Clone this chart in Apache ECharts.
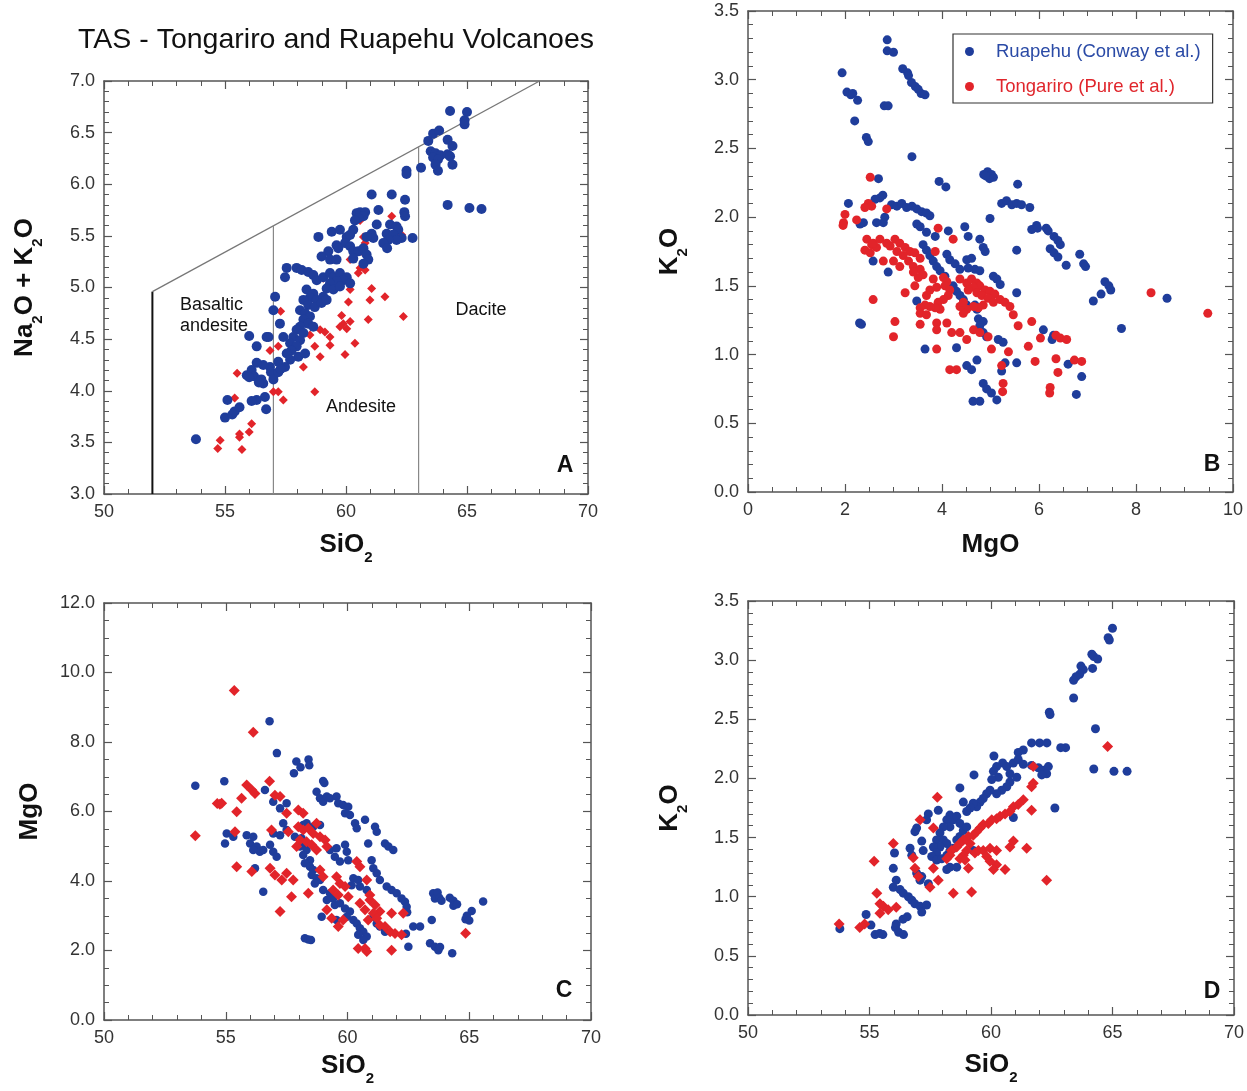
<!DOCTYPE html>
<html><head><meta charset="utf-8">
<script src="https://cdn.jsdelivr.net/npm/echarts@6/dist/echarts.min.js"></script>
<style>html,body{margin:0;padding:0;background:#fff}#c{width:1247px;height:1091px}</style>
</head><body><div id="c"></div>
<script>
// ---------------- DATA ----------------
const mainTitle = 'TAS - Tongariro and Ruapehu Volcanoes';
const nameRuapehu = 'Ruapehu (Conway et al.)';
const nameTongariro = 'Tongariro (Pure et al.)';
const panelLetters = ['A', 'B', 'C', 'D'];
const fieldLabels = ['Basaltic\nandesite', 'Andesite', 'Dacite'];

// TAS field boundaries (SiO2, Na2O+K2O)
const tasBasaltEdge = [[52, 3.0], [52, 4.96]];
const tasUpperEdge = [[52, 4.96], [68, 7.0]];
const tasEdge57 = [[57, 3.0], [57, 5.60]];
const tasEdge63 = [[63, 3.0], [63, 6.37]];

// Panel A: SiO2 vs Na2O+K2O
const aBlue = [
 [64.3,6.71],[65.0,6.70],[64.9,6.62],[64.9,6.58],[63.4,6.42],[63.6,6.49],[63.85,6.52],[64.2,6.43],[64.4,6.37],[63.5,6.32],
 [63.7,6.30],[63.9,6.28],[64.2,6.29],[63.6,6.26],[63.8,6.24],[63.7,6.19],[63.8,6.13],[64.4,6.19],[64.3,6.27],[63.1,6.16],
 [62.5,6.13],[62.5,6.10],[64.2,5.80],[65.1,5.77],[65.6,5.76],
 [61.06,5.90],[61.89,5.90],[62.44,5.85],[61.34,5.75],[62.41,5.73],[62.44,5.69],[60.44,5.72],[60.58,5.73],[60.79,5.73],[60.72,5.69],
 [60.51,5.67],[60.37,5.65],[61.82,5.61],[62.09,5.59],[62.16,5.56],[61.68,5.52],[61.95,5.51],[62.30,5.48],[62.09,5.46],[61.75,5.46],
 [61.54,5.43],[61.70,5.38],[62.75,5.48],[61.27,5.61],[61.06,5.52],[61.13,5.48],[60.85,5.49],
 [60.30,5.56],[60.03,5.49],[60.17,5.51],[59.96,5.43],[60.17,5.40],[60.30,5.35],[60.51,5.35],[60.72,5.38],[60.85,5.32],[60.92,5.27],
 [60.72,5.23],[60.30,5.28],
 [59.41,5.54],[59.75,5.56],[58.86,5.49],[59.61,5.41],[59.68,5.38],[59.27,5.35],[58.99,5.30],[59.34,5.27],[59.61,5.27],
 [57.55,5.19],[57.96,5.19],[58.17,5.17],[58.44,5.15],[58.65,5.12],[57.48,5.10],[58.79,5.07],[59.06,5.10],[59.34,5.14],[59.48,5.10],
 [59.75,5.14],[60.03,5.10],[59.89,5.07],[60.17,5.04],[59.61,5.06],[59.34,5.04],[59.20,4.99],[59.48,4.98],[59.75,5.01],
 [58.37,4.98],[58.65,4.94],[58.51,4.90],[58.79,4.88],[59.06,4.91],[58.24,4.88],[58.44,4.83],[58.71,4.81],[58.99,4.85],[59.20,4.88],
 [58.10,4.78],[58.31,4.75],[58.51,4.72],[58.24,4.69],[58.44,4.65],[58.65,4.62],[58.10,4.62],[57.96,4.59],[58.24,4.56],[57.82,4.52],
 [58.10,4.49],[57.69,4.46],[57.96,4.43],[57.75,4.39],[57.55,4.36],[57.41,4.52],[57.27,4.65],
 [58.03,4.33],[58.31,4.36],[57.69,4.30],[57.48,4.23],[57.20,4.28],[57.07,4.91],[57.0,4.78],
 [56.58,4.07],[56.65,3.94],[56.31,3.91],[56.86,4.23],[56.58,4.25],[56.31,4.27],[56.72,4.52],[56.31,4.43],[56.0,4.53],[56.8,4.52],
 [56.1,4.20],[55.9,4.15],[56.2,4.14],[56.5,4.11],[56.0,4.13],[56.1,3.90],[56.7,3.82],[56.4,4.08],[56.9,4.18],[57.0,4.11],
 [57.2,4.18],[57.3,4.21],
 [53.8,3.53],[55.0,3.74],[55.3,3.77],[55.4,3.80],[55.6,3.84],[55.1,3.91]
];
const aRed = [
 [54.7,3.44],[54.8,3.52],[55.7,3.43],[55.6,3.55],[55.6,3.58],[56.0,3.60],[56.1,3.68],[55.4,3.93],[55.5,4.17],
 [61.89,5.69],[62.30,5.51],[60.58,5.65],[60.72,5.49],[60.79,5.43],[60.65,5.35],[60.17,5.27],[60.58,5.19],[60.51,5.14],[60.79,5.17],
 [59.06,5.09],[61.06,4.99],[61.61,4.91],[60.99,4.88],[60.17,4.98],[60.10,4.86],[62.37,4.72],[60.92,4.69],[59.82,4.73],[59.89,4.65],
 [60.17,4.67],[60.03,4.60],[59.75,4.62],[58.93,4.59],[59.13,4.57],[59.34,4.52],[60.37,4.46],[59.34,4.44],[58.71,4.43],[58.93,4.33],
 [59.96,4.35],[58.24,4.23],[57.20,4.43],[56.86,4.39],[57.0,3.99],[57.2,3.99],[57.41,3.91],[58.71,3.99],[58.51,4.54],[57.3,4.77]
];

// Panel B: MgO vs K2O
const bBlue = [
 [1.94,3.05],[2.04,2.91],[2.12,2.89],[2.16,2.90],[2.26,2.85],[2.20,2.70],[2.44,2.58],[2.48,2.55],[2.87,3.29],[2.87,3.21],
 [3.00,3.20],[2.81,2.81],[2.89,2.81],[3.19,3.08],[3.29,3.05],[3.31,3.03],[3.37,2.98],[3.45,2.95],[3.51,2.93],[3.57,2.90],
 [3.65,2.89],[3.38,2.44],[2.69,2.28],[2.78,2.16],[3.94,2.26],[4.08,2.22],
 [4.86,2.31],[4.94,2.33],[5.02,2.31],[5.06,2.29],[4.98,2.28],[4.90,2.30],[5.56,2.24],
 [2.07,2.10],[2.72,2.14],[2.62,2.13],[2.96,2.09],[3.07,2.08],[3.17,2.10],[3.27,2.07],[3.38,2.08],[3.48,2.06],[3.58,2.04],
 [3.68,2.03],[3.75,2.01],[2.82,2.00],[2.79,1.96],[2.65,1.96],[2.38,1.96],[2.31,1.95],
 [3.48,1.95],[3.55,1.93],[3.68,1.89],[3.86,1.86],[4.13,1.90],[4.47,1.93],[4.54,1.86],[4.78,1.84],[4.85,1.78],[4.89,1.75],
 [4.99,1.99],[5.23,2.10],[5.33,2.12],[5.44,2.09],[5.54,2.10],[5.64,2.09],[5.81,2.07],[5.54,1.76],[5.85,1.91],
 [3.61,1.80],[3.68,1.76],[3.75,1.72],[3.82,1.68],[3.89,1.64],[3.96,1.61],[4.06,1.57],
 [4.10,1.73],[4.16,1.69],[4.27,1.66],[4.37,1.62],[4.51,1.69],[4.61,1.70],[4.68,1.62],[4.78,1.61],[4.54,1.63],
 [5.06,1.57],[5.13,1.55],[5.20,1.51],
 [4.23,1.50],[4.30,1.46],[4.37,1.43],[4.44,1.40],[4.51,1.36],
 [4.68,1.36],[4.72,1.33],[4.75,1.26],[4.85,1.24],[4.78,1.21],[4.85,1.16],[4.92,1.13],[5.16,1.11],[5.26,1.09],
 [3.48,1.39],[2.30,1.23],[2.34,1.22],[2.89,1.60],[2.58,1.68],[3.65,1.04],[4.30,1.05],[5.54,1.45],[5.54,0.94],
 [4.51,0.92],[4.61,0.89],[4.72,0.96],[4.85,0.79],[4.92,0.75],[5.02,0.72],[5.13,0.67],[4.78,0.66],[4.64,0.66],[5.23,0.88],[5.30,0.94],
 [5.95,1.94],[5.97,1.92],[6.15,1.92],[6.19,1.90],[6.31,1.86],[6.39,1.83],[6.44,1.80],[6.23,1.77],[6.31,1.74],[6.39,1.71],
 [6.56,1.65],[6.84,1.73],[6.92,1.66],[6.96,1.64],[7.36,1.53],[7.44,1.50],[7.48,1.47],[7.28,1.44],[7.12,1.39],[8.64,1.41],[7.70,1.19],
 [6.09,1.18],[6.30,1.14],[6.27,1.11],[6.60,0.93],[6.88,0.84],[6.77,0.71]
];
const bRed = [
 [2.52,2.29],[2.48,2.10],[2.55,2.08],[2.41,2.07],[2.00,2.02],[1.97,1.96],[2.86,2.06],[2.24,1.98],[1.96,1.94],
 [2.45,1.84],[2.55,1.80],[2.65,1.78],[2.41,1.76],[2.52,1.74],[2.58,1.81],[2.72,1.84],[2.86,1.81],[2.93,1.79],[3.03,1.84],
 [3.13,1.81],[3.24,1.78],[3.34,1.75],[3.44,1.74],[3.55,1.70],[3.07,1.75],[3.20,1.72],[3.00,1.68],[3.13,1.64],[3.31,1.68],
 [3.41,1.64],[3.55,1.62],[3.61,1.58],[3.51,1.56],[3.41,1.60],[2.79,1.68],
 [2.58,1.40],[3.24,1.45],[3.44,1.50],[3.68,1.43],[3.75,1.47],[3.89,1.49],[3.82,1.55],[3.86,1.75],[3.92,1.92],[4.23,1.84],
 [4.03,1.56],[4.10,1.53],[4.06,1.50],[4.16,1.47],[4.13,1.43],[4.03,1.40],[3.92,1.38],[3.96,1.33],[3.86,1.34],[3.75,1.35],
 [3.65,1.36],[3.55,1.34],[3.55,1.30],[3.68,1.29],
 [4.37,1.55],[4.51,1.52],[4.61,1.55],[4.72,1.52],[4.78,1.50],[4.89,1.47],[4.99,1.46],[5.09,1.44],[5.20,1.40],[5.30,1.38],
 [5.40,1.35],[5.47,1.29],[4.65,1.49],[4.54,1.47],[4.72,1.45],[4.82,1.43],[4.95,1.41],[5.06,1.38],[4.85,1.36],[4.75,1.34],
 [4.65,1.35],[4.51,1.33],[4.44,1.30],[4.37,1.35],[4.44,1.38],
 [3.03,1.24],[3.00,1.13],[3.55,1.22],[3.89,1.23],[3.89,1.18],[4.10,1.23],[4.20,1.16],[4.37,1.16],[4.51,1.11],[4.65,1.18],
 [4.78,1.16],[4.95,1.13],[3.89,1.04],[4.16,0.89],[4.30,0.89],[5.02,1.04],[5.37,1.02],[5.23,0.92],[5.26,0.79],[5.25,0.73],
 [5.57,1.21],[5.85,1.24],[5.78,1.06],[5.92,0.95],
 [6.03,1.12],[6.23,0.76],[6.22,0.72],[6.35,0.97],[6.39,0.87],[6.35,1.14],[6.44,1.12],[6.57,1.11],[6.73,0.96],[6.88,0.95],
 [8.31,1.45],[9.48,1.30]
];

// Panel C: SiO2 vs MgO
const cBlue = [
 [56.8,8.60],[57.1,7.68],[57.9,7.44],[58.07,7.27],[58.4,7.50],[58.43,7.33],[57.8,7.10],[59.0,6.88],[59.05,6.82],[53.75,6.74],[54.94,6.87],
 [58.73,6.57],[58.87,6.38],[59.0,6.28],[59.15,6.43],[59.28,6.38],[59.55,6.43],[59.62,6.24],[59.82,6.19],[60.03,6.14],[59.9,5.95],[60.1,5.90],
 [60.31,5.66],[60.38,5.52],[60.72,5.76],[61.13,5.56],[61.2,5.42],[60.85,5.08],[61.54,5.08],[61.68,4.99],[61.88,4.89],
 [56.61,6.62],[56.95,6.28],[57.23,6.09],[57.5,6.24],[57.36,5.66],[57.5,5.47],[57.23,5.32],[56.95,5.37],
 [55.04,5.37],[55.31,5.27],[54.97,5.08],
 [55.86,5.32],[56.13,5.27],[56.0,5.08],[56.27,4.99],[56.4,4.84],[56.54,4.89],[56.82,5.04],[56.95,4.84],[57.09,4.70],[56.13,4.89],
 [56.2,4.37],[56.54,3.69],
 [57.84,5.27],[58.11,5.23],[58.25,5.08],[58.05,4.99],[58.32,4.89],[58.18,4.75],[58.46,4.60],[58.25,4.51],[58.46,4.41],[58.59,4.32],
 [58.53,4.17],[58.73,4.08],[58.87,4.03],[58.66,3.93],
 [58.18,5.61],[58.32,5.66],[58.59,5.56],[58.87,5.61],
 [59.28,4.89],[59.55,4.94],[59.9,5.04],[59.97,4.84],[60.03,4.60],[59.69,4.56],[59.48,4.70],
 [60.24,4.08],[60.44,4.03],[60.17,3.88],[60.51,3.84],[60.79,3.74],
 [60.99,4.60],[61.06,4.37],[61.2,4.22],
 [61.33,4.03],[61.61,3.84],[61.81,3.74],[62.02,3.65],[62.22,3.50],[62.36,3.40],[62.43,3.26],[62.45,3.10],
 [59.0,3.74],[59.28,3.65],[59.41,3.50],[59.15,3.45],[59.48,3.31],[59.69,3.36],[59.9,3.21],[60.1,3.12],[59.97,2.97],[60.24,2.88],
 [60.38,2.78],[60.51,2.64],[60.65,2.54],[60.44,2.45],[60.79,2.40],[60.65,2.30],
 [58.94,2.97],[59.55,2.88],[58.25,2.35],[58.39,2.32],[58.5,2.30],
 [61.06,2.97],[61.2,2.78],[61.33,2.69],[61.54,2.54],[62.4,2.48],
 [62.7,2.69],[62.98,2.69],[63.46,2.88],[63.52,3.65],[63.59,3.50],[62.5,2.11],[63.39,2.21],[63.59,2.11],[63.73,2.01],
 [63.7,3.67],[63.77,3.52],[63.86,3.43],[64.2,3.52],[64.35,3.43],[64.35,3.29],[64.5,3.33],[64.85,2.90],[64.9,3.00],[65.0,2.86],
 [65.1,3.14],[65.57,3.41],[64.3,1.92],[63.8,2.10]
];
const cRed = [
 [55.35,9.48],[56.13,8.28],[56.8,6.87],[54.65,6.23],[54.76,6.21],[53.75,5.30],[64.85,2.50],
 [55.86,6.76],[56.07,6.62],[56.2,6.52],[55.65,6.38],[55.45,5.99],[54.83,6.24],[57.02,6.47],[57.23,6.43],[57.5,5.95],[57.98,6.04],
 [58.18,5.95],[57.57,5.42],[56.88,5.47],[55.38,5.42],
 [57.98,5.56],[58.18,5.47],[58.39,5.52],[58.73,5.66],[58.59,5.37],[58.87,5.27],[59.08,5.18],[59.15,4.99],[58.05,5.18],[57.91,4.99],
 [58.32,5.13],[58.53,5.04],[58.73,4.89],
 [55.45,4.41],[56.07,4.27],[56.82,4.37],[57.02,4.17],[57.3,4.03],[57.5,4.22],[57.77,4.03],
 [58.39,3.65],[57.7,3.55],[57.23,3.12],[58.87,4.32],[59.0,4.12],
 [59.55,4.12],[59.69,3.93],[59.9,3.84],[59.41,3.74],[59.62,3.60],[60.03,3.55],[60.38,4.56],[60.51,4.41],
 [60.79,4.03],[60.92,3.60],[60.51,3.36],[60.72,3.17],[60.92,3.45],[61.13,3.31],[61.33,3.12],[61.06,3.07],[60.85,2.88],[61.2,2.93],
 [59.15,3.17],[59.35,2.93],[59.62,2.69],[59.82,2.88],
 [60.44,2.06],[60.72,2.06],[60.79,1.97],[61.81,2.01],
 [61.33,2.73],[61.54,2.69],[61.75,2.54],[61.95,2.49],[62.22,2.45],[62.29,3.07],[61.81,3.07]
];

// Panel D: SiO2 vs K2O
const dBlue = [
 [65.0,3.27],[64.82,3.19],[64.87,3.17],[64.15,3.05],[64.23,3.03],[64.39,3.01],[64.18,2.93],[63.7,2.95],[63.8,2.92],[63.65,2.88],
 [63.5,2.86],[63.4,2.83],[63.4,2.68],[62.4,2.56],[62.43,2.54],[64.3,2.42],[63.07,2.26],[62.0,2.30],[62.3,2.30],[64.23,2.08],
 [65.06,2.06],[65.6,2.06],
 [61.67,2.30],[62.87,2.26],[61.33,2.24],[61.12,2.22],[60.12,2.19],[60.48,2.13],[60.65,2.10],[60.92,2.13],[61.12,2.16],[61.33,2.12],
 [61.67,2.11],[61.95,2.09],[62.15,2.07],[62.36,2.10],[62.29,2.04],[62.09,2.03],[60.23,2.10],[60.1,2.06],[60.3,2.01],[60.03,1.99],[59.3,2.03],
 [60.78,2.04],[61.06,2.01],[60.78,1.97],[60.65,1.93],[60.44,1.90],[60.23,1.87],[59.96,1.90],[59.82,1.87],[59.68,1.83],[59.55,1.80],
 [59.41,1.76],[59.27,1.79],[59.14,1.75],[59.0,1.72],[58.72,1.92],[58.86,1.80],
 [58.31,1.69],[58.45,1.65],[58.18,1.65],[58.59,1.68],[58.72,1.62],[58.31,1.59],[58.04,1.59],[57.9,1.54],[57.76,1.48],[58.04,1.48],
 [58.18,1.45],[57.9,1.42],[57.63,1.42],[57.76,1.37],[57.56,1.34],[57.76,1.31],[57.97,1.32],[58.18,1.35],[58.31,1.39],[58.45,1.41],
 [58.59,1.48],[58.72,1.51],[58.86,1.56],[59.0,1.59],
 [57.83,1.73],[57.42,1.70],[57.35,1.65],[56.94,1.58],[56.87,1.55],[57.15,1.47],[57.21,1.39],[56.67,1.41],[56.74,1.35],[56.03,1.37],
 [58.31,1.25],[58.18,1.23],[58.59,1.25],[59.27,1.39],[60.92,1.67],[62.63,1.75],[55.98,1.24],
 [56.94,1.20],[57.15,1.17],[57.42,1.11],[57.08,1.14],
 [56.1,1.14],[55.98,1.08],[56.26,1.06],[56.39,1.03],[56.6,1.00],[56.74,0.97],[56.87,0.94],[57.08,0.92],[57.15,0.87],[57.35,0.93],
 [53.78,0.73],[54.86,0.85],[55.06,0.76],[55.23,0.68],[55.42,0.69],[55.55,0.68],[56.1,0.77],[56.07,0.74],[56.2,0.70],[56.4,0.68],
 [56.38,0.81],[56.55,0.83]
];
const dRed = [
 [53.75,0.77],[54.6,0.74],[54.8,0.77],[64.8,2.27],
 [57.79,1.84],[57.08,1.65],[57.63,1.58],[55.98,1.45],[55.19,1.30],[61.67,1.93],[61.74,1.96],[61.67,1.73],[62.29,1.14],[61.74,2.10],
 [61.33,1.82],[61.12,1.78],[60.92,1.76],[60.78,1.72],[60.58,1.70],[60.37,1.68],[60.23,1.66],[60.03,1.65],[59.89,1.62],[59.68,1.61],
 [59.55,1.58],[59.41,1.55],[59.27,1.52],[59.07,1.51],[58.86,1.48],[58.72,1.45],[58.59,1.42],[58.38,1.39],[58.31,1.35],[58.18,1.32],
 [59.14,1.45],[59.0,1.39],[58.86,1.35],[58.72,1.32],[58.93,1.31],[59.34,1.37],[59.48,1.39],
 [59.68,1.39],[59.96,1.41],[60.23,1.39],[59.82,1.34],[59.96,1.30],[60.23,1.27],[60.58,1.23],[60.1,1.23],
 [60.78,1.42],[60.92,1.47],[61.47,1.41],
 [59.07,1.24],[59.2,1.04],[58.45,1.03],
 [57.63,1.24],[57.83,1.14],[57.49,1.08],[56.87,1.24],[57.01,1.17],[56.8,1.33],[56.1,0.91],
 [55.3,1.03],[55.43,0.94],[55.57,0.92],[55.77,0.89],[55.43,0.86]
];

// ---------------- STYLE / LAYOUT ----------------
const BLUE = '#1f3d9b', RED = '#e2242a';
const FONT = '"Liberation Sans", Arial, sans-serif';
const AXC = '#555';
const TICKFS = 18, NAMEFS = 26;

const nameRich = {
  b: {fontSize: NAMEFS, fontWeight: 'bold', color: '#111', fontFamily: FONT, lineHeight: 40},
  s: {fontSize: 15, fontWeight: 'bold', color: '#111', fontFamily: FONT, lineHeight: 12, verticalAlign: 'bottom'}
};

const panels = [
  {grid: {left: 104, top: 81, width: 484, height: 413}, x: [50, 70, 5, 5], y: [3, 7, 0.5, 5],
   xName: '{b|SiO}{s|2}', yName: '{b|Na}{s|2}{b|O + K}{s|2}{b|O}', xGap: 31, yGap: 59},
  {grid: {left: 748, top: 11, width: 485, height: 481}, x: [0, 10, 2, 4], y: [0, 3.5, 0.5, 5],
   xName: '{b|MgO}', yName: '{b|K}{s|2}{b|O}', xGap: 33, yGap: 58},
  {grid: {left: 104, top: 603, width: 487, height: 417}, x: [50, 70, 5, 5], y: [0, 12, 2, 4],
   xName: '{b|SiO}{s|2}', yName: '{b|MgO}', xGap: 26, yGap: 54},
  {grid: {left: 748, top: 601, width: 486, height: 414}, x: [50, 70, 5, 5], y: [0, 3.5, 0.5, 5],
   xName: '{b|SiO}{s|2}', yName: '{b|K}{s|2}{b|O}', xGap: 30, yGap: 58}
];

function baseAxis(gi, r, pos, showLabel, dec) {
  return {
    type: 'value', gridIndex: gi, min: r[0], max: r[1], interval: r[2], position: pos,
    axisLine: {show: true, onZero: false, lineStyle: {color: AXC, width: 1.5}},
    axisTick: {show: true, inside: true, length: 8, lineStyle: {color: AXC, width: 1.2}},
    minorTick: {show: true, splitNumber: r[3], length: 5, lineStyle: {color: AXC, width: 1}},
    splitLine: {show: false}, minorSplitLine: {show: false},
    axisLabel: {show: showLabel, fontSize: TICKFS, color: '#333', fontFamily: FONT, margin: 9,
      formatter: v => v.toFixed(dec)},
    silent: true
  };
}

const grids = [], xAxes = [], yAxes = [];
panels.forEach((p, i) => {
  grids.push(Object.assign({containLabel: false}, p.grid));
  const xb = baseAxis(i, p.x, 'bottom', true, 0);
  xb.name = p.xName; xb.nameLocation = 'middle'; xb.nameGap = p.xGap;
  xb.nameTextStyle = {rich: nameRich, fontFamily: FONT};
  xAxes.push(xb, baseAxis(i, p.x, 'top', false, 0));
  const yl = baseAxis(i, p.y, 'left', true, 1);
  yl.name = p.yName; yl.nameLocation = 'middle'; yl.nameGap = p.yGap; yl.nameRotate = 90;
  yl.nameTextStyle = {rich: nameRich, fontFamily: FONT};
  yAxes.push(yl, baseAxis(i, p.y, 'right', false, 1));
});

function scatter(name, data, gi, symbol, size, color, z) {
  return {type: 'scatter', name, data, xAxisIndex: gi * 2, yAxisIndex: gi * 2, symbol, symbolSize: size,
    itemStyle: {color, opacity: 1}, z, silent: true, animation: false};
}
function edge(data, color, width) {
  return {type: 'line', data, xAxisIndex: 0, yAxisIndex: 0, symbol: 'none', silent: true, animation: false,
    lineStyle: {color, width}, z: 1};
}

const series = [
  edge(tasBasaltEdge, '#111', 2), edge(tasUpperEdge, '#777', 1.3), edge(tasEdge57, '#888', 1.2), edge(tasEdge63, '#888', 1.2),
  scatter(nameTongariro, aRed, 0, 'diamond', 9, RED, 3),
  scatter(nameRuapehu, aBlue, 0, 'circle', 10, BLUE, 4),
  scatter(nameRuapehu, bBlue, 1, 'circle', 9, BLUE, 3),
  scatter(nameTongariro, bRed, 1, 'circle', 9, RED, 4),
  scatter(nameRuapehu, cBlue, 2, 'circle', 8.5, BLUE, 3),
  scatter(nameTongariro, cRed, 2, 'diamond', 11, RED, 4),
  scatter(nameRuapehu, dBlue, 3, 'circle', 9, BLUE, 3),
  scatter(nameTongariro, dRed, 3, 'diamond', 11, RED, 4)
];

const txt = (x, y, text, size, weight, align) => ({type: 'text', x, y, silent: true,
  style: {text, fontSize: size, fontWeight: weight, fontFamily: FONT, fill: '#111', align: align, verticalAlign: 'middle', lineHeight: 21}});

const graphics = [
  txt(336, 40, mainTitle, 28.5, 'normal', 'center'),
  txt(565, 466, panelLetters[0], 23, 'bold', 'center'),
  txt(1212, 465, panelLetters[1], 23, 'bold', 'center'),
  txt(564, 991, panelLetters[2], 23, 'bold', 'center'),
  txt(1212, 992, panelLetters[3], 23, 'bold', 'center'),
  txt(180, 316, fieldLabels[0], 18, 'normal', 'left'),
  txt(361, 407, fieldLabels[1], 18, 'normal', 'center'),
  txt(481, 310, fieldLabels[2], 18, 'normal', 'center')
];

const chart = echarts.init(document.getElementById('c'), null, {renderer: 'canvas', width: 1247, height: 1091});
chart.setOption({
  animation: false,
  backgroundColor: '#fff',
  grid: grids, xAxis: xAxes, yAxis: yAxes, series,
  legend: {
    left: 953, top: 34, orient: 'vertical', icon: 'circle', itemWidth: 9, itemHeight: 9, itemGap: 16,
    padding: [8, 12, 7, 12], borderColor: '#333', borderWidth: 1.2, backgroundColor: '#fff',
    selectedMode: false,
    textStyle: {fontSize: 18.5, fontFamily: FONT, padding: [0, 0, 0, 17]},
    data: [
      {name: nameRuapehu, textStyle: {color: '#2a4aa6'}, itemStyle: {color: BLUE}},
      {name: nameTongariro, textStyle: {color: '#e0262c'}, itemStyle: {color: RED}}
    ]
  },
  graphic: graphics
});
</script></body></html>
